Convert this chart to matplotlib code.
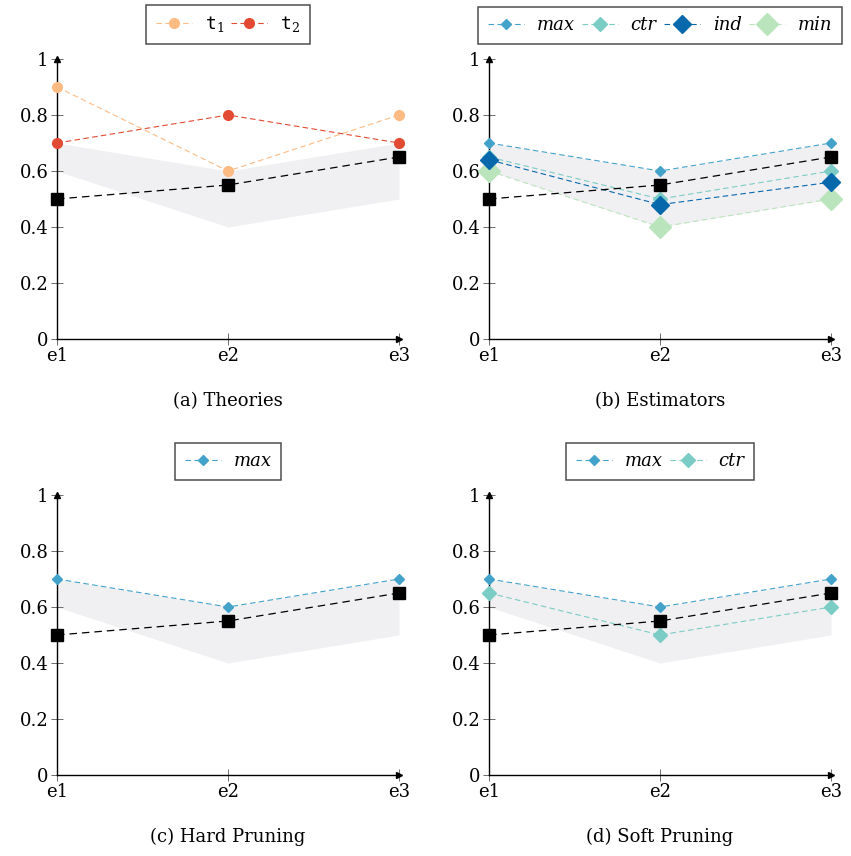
import numpy as np
import matplotlib.pyplot as plt

exps = ['e1', 'e2', 'e3']
band_hi = [0.7, 0.6, 0.7]
band_lo = [0.6, 0.4, 0.5]
base = [0.5, 0.55, 0.65]

t1 = [0.9, 0.6, 0.8]
t2 = [0.7, 0.8, 0.7]

est_max = [0.7, 0.6, 0.7]
est_ctr = [0.65, 0.5, 0.6]
est_ind = [0.64, 0.48, 0.56]
est_min = [0.6, 0.4, 0.5]

yticks = [0, 0.2, 0.4, 0.6, 0.8, 1]
ylabels = ['0', '0.2', '0.4', '0.6', '0.8', '1']

plt.rcParams['font.family'] = ['DejaVu Serif']
plt.rcParams['mathtext.fontset'] = 'dejavuserif'
FS = 13

fig = plt.figure(figsize=(8.51, 8.56), dpi=100)
W, H = 851, 856


def make_ax(x0, x1, y0, y1):
    return fig.add_axes([x0 / W, 1 - y0 / H, (x1 - x0) / W, (y0 - y1) / H])


def style(ax, caption):
    x = np.arange(len(exps))
    ax.fill_between(x, band_lo, band_hi, color='#f0f0f3', lw=0, zorder=1)
    ax.plot(x, base, ls=(0, (6, 4)), color='black', lw=0.9, marker='s',
            ms=8, zorder=5, clip_on=False)
    ax.set_xlim(0, 2)
    ax.set_ylim(0, 1)
    for s in ['top', 'right']:
        ax.spines[s].set_visible(False)
    for s in ['left', 'bottom']:
        ax.spines[s].set_linewidth(1.0)
    ax.plot(1, 0, '>k', ms=5, transform=ax.transAxes, clip_on=False)
    ax.plot(0, 1, '^k', ms=5, transform=ax.transAxes, clip_on=False)
    ax.set_xticks(x)
    ax.set_xticklabels(exps, fontsize=FS)
    ax.set_yticks(yticks)
    ax.set_yticklabels(ylabels, fontsize=FS)
    ax.tick_params(direction='inout', length=8, width=0.6, color='#555555', pad=2)
    ax.text(0.5, -0.22, caption, transform=ax.transAxes, ha='center',
            va='center', fontsize=FS)


def legend(ax, ncol):
    leg = ax.legend(loc='lower center', bbox_to_anchor=(0.5, 1.02), ncol=ncol,
                    frameon=True, fancybox=False, edgecolor='#222222', fontsize=FS,
                    handlelength=2.0, columnspacing=0.4, handletextpad=0.7,
                    borderpad=0.55)
    leg.get_frame().set_linewidth(1.1)
    for t in leg.get_texts():
        t.set_style('italic')


dash = (0, (5, 3))
x = np.arange(len(exps))

# (a) Theories
ax = make_ax(57, 399, 339, 59)
style(ax, '(a) Theories')
ax.plot(x, t1, ls=dash, lw=0.8, color='#fdbb84', marker='o', ms=7,
        label=r'$\mathtt{t}_1$', zorder=4, clip_on=False)
ax.plot(x, t2, ls=dash, lw=0.8, color='#e34a33', marker='o', ms=7,
        label=r'$\mathtt{t}_2$', zorder=4, clip_on=False)
legend(ax, 2)

# (b) Estimators
ax = make_ax(489, 831, 339, 59)
style(ax, '(b) Estimators')
ax.plot(x, est_max, ls=dash, lw=0.8, color='#43a2ca', marker='D', ms=5,
        label='max', zorder=4, clip_on=False)
ax.plot(x, est_ctr, ls=dash, lw=0.8, color='#7bccc4', marker='D', ms=7,
        label='ctr', zorder=4, clip_on=False)
ax.plot(x, est_ind, ls=dash, lw=0.8, color='#0868ac', marker='D', ms=9,
        label='ind', zorder=4, clip_on=False)
ax.plot(x, est_min, ls=dash, lw=0.8, color='#bae4bc', marker='D', ms=11,
        label='min', zorder=3, clip_on=False)
legend(ax, 4)

# (c) Hard Pruning
ax = make_ax(57, 399, 775, 495)
style(ax, '(c) Hard Pruning')
ax.plot(x, est_max, ls=dash, lw=0.8, color='#43a2ca', marker='D', ms=5,
        label='max', zorder=4, clip_on=False)
legend(ax, 1)

# (d) Soft Pruning
ax = make_ax(489, 831, 775, 495)
style(ax, '(d) Soft Pruning')
ax.plot(x, est_max, ls=dash, lw=0.8, color='#43a2ca', marker='D', ms=5,
        label='max', zorder=4, clip_on=False)
ax.plot(x, est_ctr, ls=dash, lw=0.8, color='#7bccc4', marker='D', ms=7,
        label='ctr', zorder=4, clip_on=False)
legend(ax, 2)

fig.savefig('out.png', dpi=100)
